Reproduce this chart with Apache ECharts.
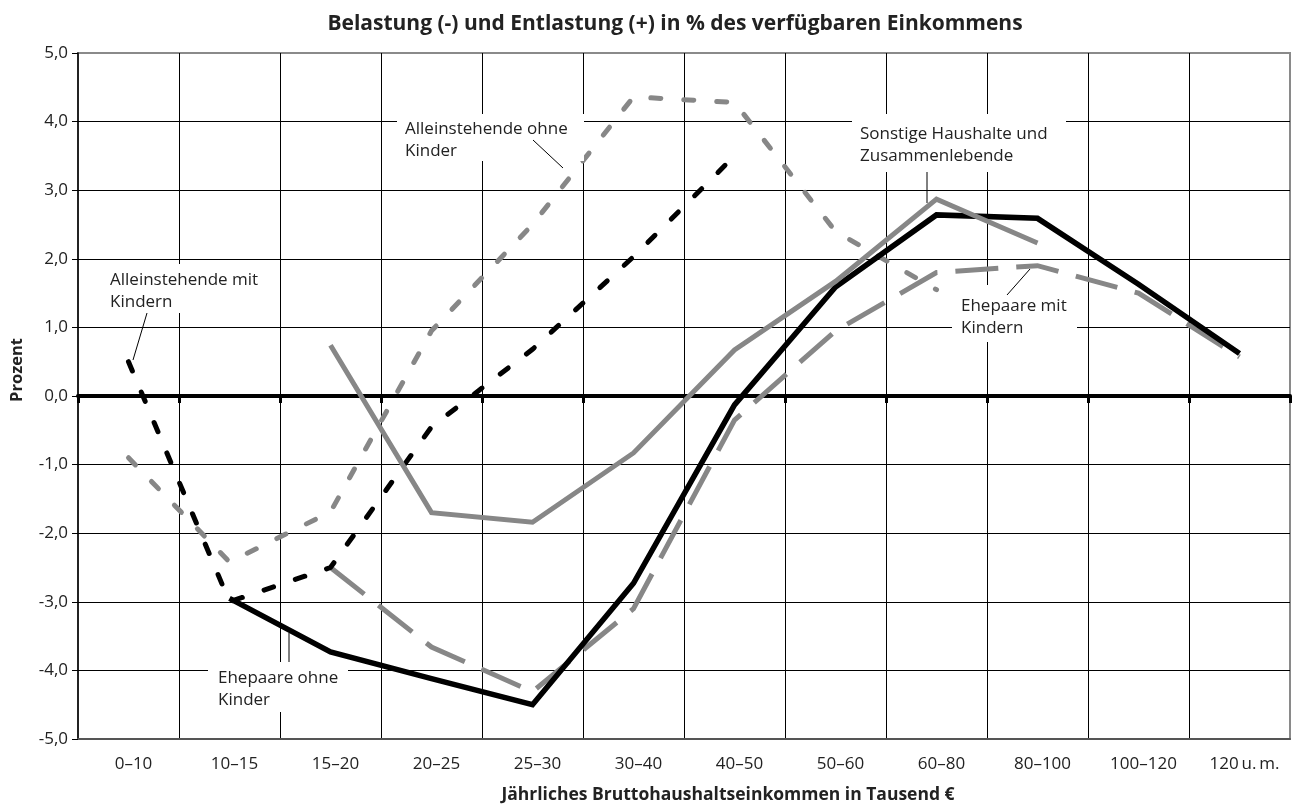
<!DOCTYPE html>
<html>
<head>
<meta charset="utf-8">
<script src="https://cdn.jsdelivr.net/npm/echarts@6/dist/echarts.min.js"></script>
<style>
html,body{margin:0;padding:0;background:#fff;}
#chart{width:1292px;height:804px;}
</style>
</head>
<body>
<div id="chart"></div>
<script>
// ---- data ----
const categories = ['0–10','10–15','15–20','20–25','25–30','30–40','40–50','50–60','60–80','80–100','100–120','120\u2009u.\u2009m.'];
const alleinstehendeMitKindern = [0.5, -3.0, -2.5, -0.45, 0.68, 2.03, 3.5, null, null, null, null, null];
const alleinstehendeOhneKinder = [-0.9, -2.42, -1.69, 0.95, 2.5, 4.36, 4.28, 2.4, 1.55, null, null, null];
const ehepaareOhneKinder = [null, -2.95, -3.73, -4.12, -4.5, -2.73, -0.13, 1.59, 2.64, 2.59, 1.63, 0.62];
const ehepaareMitKindern = [null, null, -2.5, -3.66, -4.31, -3.1, -0.35, 0.95, 1.8, 1.9, 1.5, 0.57];
const sonstigeHaushalte = [null, null, 0.74, -1.7, -1.84, -0.83, 0.67, 1.67, 2.87, 2.23, null, null];
const yMin = -5, yMax = 5, yStep = 1;
const titleText = 'Belastung (-) und Entlastung (+) in % des verfügbaren Einkommens';
const xName = 'Jährliches Bruttohaushaltseinkommen in Tausend €';
const yName = 'Prozent';

// ---- styles ----
const FONT = '"Open Sans", "Noto Sans", sans-serif';
const GRAY = '#878787';
const TXT = '#222';

const chart = echarts.init(document.getElementById('chart'), null, {renderer: 'canvas'});

function annot(lines, tx, ty, box, leader) {
  const els = [];
  els.push({type: 'rect', z: 100, shape: {x: box[0], y: box[1], width: box[2] - box[0], height: box[3] - box[1]}, style: {fill: '#fff'}});
  lines.forEach((t, i) => {
    els.push({type: 'text', z: 101, x: tx, y: ty + i * 22, style: {text: t, fontFamily: FONT, fontSize: 17, fill: TXT, align: 'left', verticalAlign: 'middle'}});
  });
  if (leader) {
    els.push({type: 'line', z: 101, shape: {x1: leader[0], y1: leader[1], x2: leader[2], y2: leader[3]}, style: {stroke: '#000', lineWidth: 1}});
  }
  return els;
}

const graphics = [].concat(
  [{type: 'text', z: 101, x: 675, y: 24, style: {text: titleText, fontFamily: FONT, fontSize: 21, fontWeight: 'bold', fill: TXT, align: 'center', verticalAlign: 'middle'}}],
  [{type: 'text', z: 101, x: 728, y: 795, style: {text: xName, fontFamily: FONT, fontSize: 17.5, fontWeight: 'bold', fill: TXT, align: 'center', verticalAlign: 'middle'}}],
  [{type: 'text', z: 101, x: 17, y: 370, rotation: Math.PI / 2, style: {text: yName, fontFamily: FONT, fontSize: 16.5, fontWeight: 'bold', fill: TXT, align: 'center', verticalAlign: 'middle'}}],
  annot(['Alleinstehende mit', 'Kindern'], 110, 280, [104, 264, 272, 313], [147, 313, 133, 360]),
  annot(['Alleinstehende ohne', 'Kinder'], 405, 129, [397, 114, 584, 161], [533, 140, 563, 168]),
  annot(['Sonstige Haushalte und', 'Zusammenlebende'], 860, 134, [852, 114, 1066, 172], [927, 172, 927, 203]),
  annot(['Ehepaare mit', 'Kindern'], 961, 306, [952, 285, 1077, 342], [1007, 295, 1030, 269]),
  annot(['Ehepaare ohne', 'Kinder'], 218, 678, [208, 662, 348, 712], [289, 633, 289, 662])
);

function lineSeries(name, data, color, width, dash, cap) {
  return {
    name: name, type: 'line', data: data, xAxisIndex: 0, yAxisIndex: 0,
    symbol: 'none', connectNulls: false, animation: false, silent: true,
    lineStyle: {color: color, width: width, type: dash || 'solid', cap: cap || 'butt', join: 'miter'}
  };
}

const option = {
  animation: false,
  backgroundColor: '#fff',
  grid: {left: 78, right: 2, top: 53, bottom: 65, show: true, borderColor: '#8a8a8a', borderWidth: 2, backgroundColor: 'transparent'},
  xAxis: [
    {
      type: 'category', data: categories, boundaryGap: true, position: 'bottom',
      axisLine: {show: true, onZero: false, lineStyle: {color: '#555', width: 2}},
      axisTick: {show: false},
      axisLabel: {show: true, interval: 0, margin: 17, fontFamily: FONT, fontSize: 17, color: TXT, padding: [0, 0, 0, 10]},
      splitLine: {show: true, interval: 0, showMinLine: false, showMaxLine: false, lineStyle: {color: '#000', width: 1}}
    },
    {
      type: 'category', data: categories, boundaryGap: true, position: 'bottom',
      axisLine: {show: true, onZero: true, onZeroAxisIndex: 0, lineStyle: {color: '#000', width: 4}},
      axisTick: {show: true, interval: 0, alignWithLabel: false, inside: false, length: 7, lineStyle: {color: '#000', width: 3}},
      axisLabel: {show: false},
      splitLine: {show: false},
      z: 3
    }
  ],
  yAxis: {
    type: 'value', min: yMin, max: yMax, interval: yStep,
    axisLine: {show: true, lineStyle: {color: '#000', width: 1.5}},
    axisTick: {show: true, length: 6, lineStyle: {color: '#000', width: 1}},
    axisLabel: {margin: 10, fontFamily: FONT, fontSize: 17, color: TXT,
      formatter: v => v.toFixed(1).replace('.', ',')},
    splitLine: {show: true, showMinLine: false, showMaxLine: false, lineStyle: {color: '#000', width: 1}}
  },
  series: [
    lineSeries('Alleinstehende ohne Kinder', alleinstehendeOhneKinder, GRAY, 5, [10, 23], 'round'),
    lineSeries('Ehepaare mit Kindern', ehepaareMitKindern, GRAY, 5, [43, 18], 'butt'),
    lineSeries('Alleinstehende mit Kindern', alleinstehendeMitKindern, '#000', 5, [10, 23], 'round'),
    lineSeries('Ehepaare ohne Kinder', ehepaareOhneKinder, '#000', 5.5),
    lineSeries('Sonstige Haushalte und Zusammenlebende', sonstigeHaushalte, GRAY, 5)
  ],
  graphic: {elements: graphics}
};

chart.setOption(option);
</script>
</body>
</html>
